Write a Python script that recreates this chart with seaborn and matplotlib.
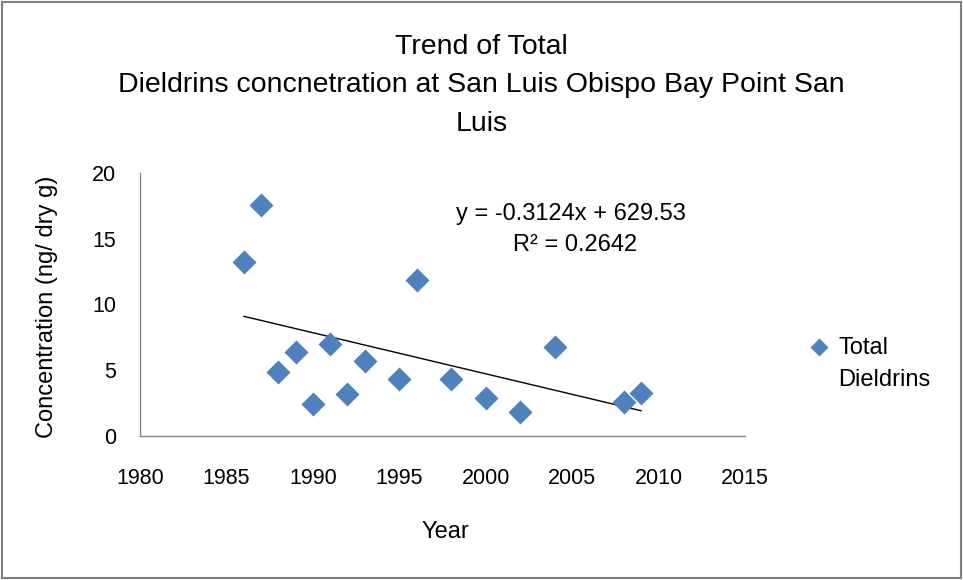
"""Trend of Total Dieldrins - San Luis Obispo Bay Point San Luis"""

import matplotlib
matplotlib.use("Agg")
import matplotlib.pyplot as plt
import seaborn as sns
import numpy as np
import pandas as pd

# data
years = [1986, 1987, 1988, 1989, 1990, 1991, 1992, 1993, 1995, 1996, 1998, 2000, 2002, 2004, 2008, 2009]
dieldrins = [13.2, 17.6, 4.9, 6.4, 2.4, 7.0, 3.2, 5.7, 4.3, 11.9, 4.3, 2.9, 1.8, 6.8, 2.6, 3.3]
trend_slope = -0.3124
trend_intercept = 629.53
r_squared = 0.2642
x_ticks = [1980, 1985, 1990, 1995, 2000, 2005, 2010, 2015]
y_ticks = [0, 5, 10, 15, 20]

sns.set_style("white")
plt.rcParams['font.family'] = ['Liberation Sans', 'DejaVu Sans']
plt.rcParams['text.color'] = 'black'
plt.rcParams['axes.labelcolor'] = 'black'

df = pd.DataFrame({'Year': years, 'Dieldrins': dieldrins})

fig = plt.figure(figsize=(9.63, 5.8), dpi=100)
ax = fig.add_axes([140 / 963, 1 - 436 / 580, 605 / 963, 263 / 580])

sns.scatterplot(data=df, x='Year', y='Dieldrins', marker='D', s=150,
                color='#4F81BD', edgecolor='#4F81BD', linewidth=0, ax=ax,
                label='Total\nDieldrins', zorder=3)

# linear trend line (Excel)
xs = np.array([min(years), max(years)])
ax.plot(xs, trend_slope * xs + trend_intercept, color='black', lw=1, zorder=2)

ax.set_xlim(1980, 2015)
ax.set_ylim(0, 20)
ax.set_xticks(x_ticks)
ax.set_yticks(y_ticks)
ax.tick_params(axis='both', length=0, labelsize=15.5, colors='black')
ax.tick_params(axis='x', pad=23)
ax.tick_params(axis='y', pad=17)
for side in ['top', 'right']:
    ax.spines[side].set_visible(False)
for side in ['left', 'bottom']:
    ax.spines[side].set_color('#868686')
    ax.spines[side].set_linewidth(1)

ax.set_xlabel('Year', fontsize=17)
ax.xaxis.set_label_coords(0.504, -0.325)
ax.set_ylabel('Concentration (ng/ dry g)', fontsize=17)
ax.yaxis.set_label_coords(-0.135, 0.49)

fig.text(571 / 963, 1 - 214 / 580, f'y = {trend_slope}x + {trend_intercept}',
         ha='center', va='center', fontsize=17)
fig.text(575 / 963, 1 - 245 / 580, f'R² = {r_squared}',
         ha='center', va='center', fontsize=17)

fig.text(0.5, 1 - 34 / 580,
         'Trend of Total\nDieldrins concnetration at San Luis Obispo Bay Point San\nLuis',
         ha='center', va='top', fontsize=20.5, linespacing=1.62)

leg = ax.legend(loc='center left', bbox_to_anchor=(784 / 963, 1 - 364 / 580),
                bbox_transform=fig.transFigure, frameon=False, fontsize=17,
                handletextpad=0.2, handlelength=1.2, markerscale=0.75,
                scatteryoffsets=[1.57])
for t in leg.get_texts():
    t.set_linespacing(1.55)

fig.patches.append(plt.Rectangle((0.002, 0.003), 0.996, 0.994, transform=fig.transFigure,
                                 fill=False, edgecolor='#7f7f7f', lw=1.5))

plt.savefig('out.png', dpi=100)
plt.close()
